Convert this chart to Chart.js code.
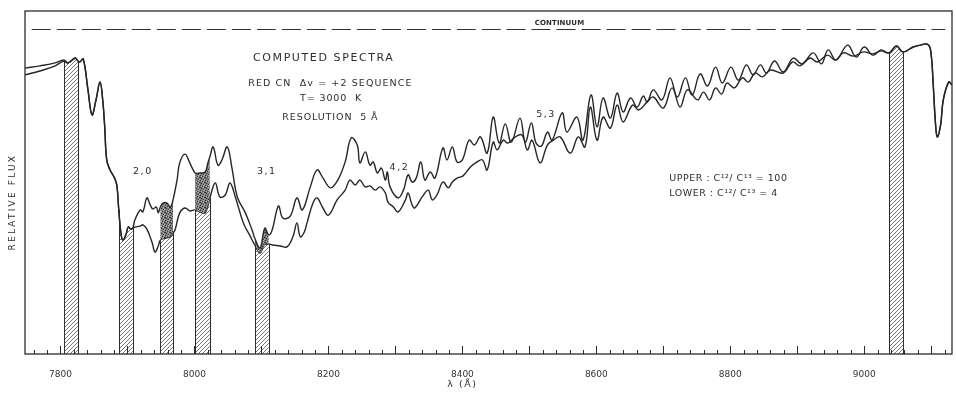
<!DOCTYPE html>
<html>
<head>
<meta charset="utf-8">
<script src="https://cdn.jsdelivr.net/npm/chart.js@4.4.1/dist/chart.umd.min.js"></script>
<style>
  html, body { margin: 0; padding: 0; background: #fff; }
  #wrap { width: 956px; height: 394px; }
</style>
</head>
<body>
<div id="wrap"><canvas id="spec" width="956" height="394"></canvas></div>
<script>
// wavelength (A) and relative flux
const upperWl = [
  7747, 7769, 7792, 7805, 7811, 7822, 7826, 7829, 7834, 7841,
  7847, 7853, 7859, 7863, 7866, 7869, 7874, 7880, 7884, 7887,
  7890, 7893, 7898, 7901, 7905, 7908, 7911, 7919, 7923, 7929,
  7934, 7938, 7943, 7946, 7949, 7953, 7959, 7964, 7968, 7974,
  7978, 7986, 7993, 8001, 8008, 8016, 8020, 8023, 8028, 8035,
  8041, 8049, 8056, 8064, 8076, 8086, 8090, 8098, 8105, 8111,
  8116, 8123, 8126, 8132, 8143, 8153, 8161, 8173, 8183, 8192,
  8203, 8214, 8225, 8234, 8243, 8247, 8255, 8262, 8267, 8273,
  8279, 8285, 8288, 8292, 8304, 8312, 8319, 8325, 8331, 8338,
  8344, 8352, 8359, 8371, 8377, 8385, 8392, 8400, 8410, 8418,
  8427, 8437, 8446, 8455, 8464, 8473, 8486, 8494, 8503, 8510,
  8518, 8527, 8534, 8549, 8556, 8571, 8580, 8592, 8601, 8610,
  8621, 8631, 8640, 8651, 8661, 8670, 8676, 8685, 8698, 8710,
  8721, 8733, 8743, 8755, 8766, 8778, 8788, 8801, 8812, 8824,
  8834, 8845, 8854, 8866, 8879, 8894, 8907, 8924, 8936, 8946,
  8958, 8975, 8988, 9000, 9013, 9025, 9037, 9048, 9058, 9073,
  9084, 9094, 9099, 9103, 9106, 9109, 9114, 9118, 9126, 9131
];
const upperFlux = [
  0.881, 0.888, 0.897, 0.906, 0.897, 0.912, 0.903, 0.900, 0.909, 0.814,
  0.737, 0.783, 0.838, 0.783, 0.700, 0.598, 0.567, 0.545, 0.521, 0.444,
  0.376, 0.351, 0.370, 0.391, 0.385, 0.388, 0.413, 0.444, 0.438, 0.481,
  0.459, 0.447, 0.453, 0.435, 0.453, 0.465, 0.465, 0.453, 0.475, 0.536,
  0.589, 0.616, 0.589, 0.558, 0.558, 0.561, 0.589, 0.607, 0.638, 0.582,
  0.598, 0.638, 0.573, 0.484, 0.435, 0.382, 0.357, 0.327, 0.388, 0.367,
  0.382, 0.444, 0.456, 0.419, 0.425, 0.481, 0.444, 0.515, 0.567, 0.542,
  0.512, 0.536, 0.592, 0.666, 0.644, 0.589, 0.623, 0.582, 0.592, 0.558,
  0.573, 0.536, 0.561, 0.515, 0.481, 0.505, 0.552, 0.530, 0.542, 0.592,
  0.536, 0.561, 0.542, 0.635, 0.598, 0.638, 0.592, 0.598, 0.659, 0.644,
  0.669, 0.619, 0.730, 0.650, 0.709, 0.653, 0.727, 0.653, 0.712, 0.650,
  0.641, 0.684, 0.659, 0.743, 0.684, 0.730, 0.659, 0.798, 0.700, 0.789,
  0.727, 0.804, 0.746, 0.789, 0.761, 0.795, 0.777, 0.814, 0.783, 0.851,
  0.792, 0.851, 0.798, 0.863, 0.826, 0.884, 0.835, 0.884, 0.844, 0.891,
  0.860, 0.891, 0.866, 0.903, 0.869, 0.912, 0.894, 0.928, 0.894, 0.937,
  0.906, 0.952, 0.915, 0.946, 0.921, 0.937, 0.928, 0.949, 0.931, 0.946,
  0.952, 0.955, 0.937, 0.829, 0.721, 0.669, 0.706, 0.783, 0.838, 0.829
];
const lowerWl = [
  7747, 7769, 7792, 7805, 7811, 7822, 7826, 7829, 7834, 7841,
  7847, 7853, 7859, 7863, 7866, 7869, 7874, 7880, 7884, 7887,
  7890, 7893, 7898, 7901, 7905, 7908, 7911, 7919, 7923, 7929,
  7937, 7941, 7946, 7949, 7956, 7964, 7968, 7971, 7978, 7986,
  7993, 8001, 8008, 8016, 8023, 8031, 8038, 8046, 8053, 8061,
  8073, 8083, 8090, 8098, 8104, 8111, 8116, 8128, 8138, 8147,
  8153, 8158, 8164, 8168, 8177, 8183, 8191, 8200, 8213, 8225,
  8232, 8240, 8247, 8255, 8262, 8270, 8277, 8285, 8289, 8297,
  8304, 8315, 8319, 8325, 8329, 8340, 8349, 8355, 8362, 8371,
  8379, 8385, 8392, 8401, 8412, 8422, 8430, 8437, 8446, 8452,
  8461, 8468, 8479, 8489, 8497, 8504, 8516, 8527, 8536, 8546,
  8561, 8573, 8583, 8591, 8601, 8610, 8621, 8631, 8640, 8654,
  8663, 8676, 8685, 8700, 8713, 8725, 8736, 8751, 8760, 8769,
  8778, 8787, 8795, 8806, 8818, 8827, 8837, 8848, 8860, 8879,
  8893, 8904, 8919, 8930, 8945, 8957, 8969, 8984, 8999, 9013,
  9025, 9037, 9048, 9058, 9073, 9084, 9094, 9099, 9103, 9106,
  9109, 9114, 9118, 9126, 9131
];
const lowerFlux = [
  0.860, 0.872, 0.888, 0.903, 0.897, 0.912, 0.903, 0.900, 0.909, 0.814,
  0.737, 0.783, 0.838, 0.783, 0.700, 0.598, 0.567, 0.545, 0.521, 0.444,
  0.376, 0.351, 0.370, 0.391, 0.385, 0.388, 0.391, 0.394, 0.398, 0.385,
  0.342, 0.314, 0.333, 0.351, 0.357, 0.361, 0.373, 0.382, 0.435, 0.450,
  0.441, 0.444, 0.438, 0.435, 0.481, 0.527, 0.484, 0.490, 0.527, 0.484,
  0.404, 0.364, 0.336, 0.311, 0.336, 0.339, 0.336, 0.333, 0.330, 0.361,
  0.404, 0.361, 0.376, 0.404, 0.465, 0.481, 0.453, 0.428, 0.475, 0.505,
  0.536, 0.521, 0.536, 0.515, 0.518, 0.505, 0.515, 0.496, 0.468, 0.453,
  0.438, 0.475, 0.496, 0.459, 0.450, 0.484, 0.505, 0.475, 0.490, 0.530,
  0.512, 0.530, 0.542, 0.549, 0.576, 0.592, 0.598, 0.567, 0.653, 0.629,
  0.659, 0.650, 0.669, 0.675, 0.629, 0.659, 0.589, 0.644, 0.659, 0.669,
  0.619, 0.669, 0.638, 0.761, 0.659, 0.730, 0.696, 0.767, 0.715, 0.767,
  0.752, 0.777, 0.792, 0.758, 0.820, 0.761, 0.814, 0.783, 0.807, 0.783,
  0.820, 0.801, 0.835, 0.820, 0.851, 0.838, 0.866, 0.854, 0.875, 0.866,
  0.900, 0.888, 0.912, 0.900, 0.921, 0.906, 0.928, 0.918, 0.931, 0.925,
  0.934, 0.928, 0.949, 0.931, 0.946, 0.952, 0.955, 0.937, 0.829, 0.721,
  0.669, 0.706, 0.783, 0.838, 0.829
];
// shaded bandpasses (A)
const bandStart = [7805, 7887, 7949, 8001, 8090, 9037];
const bandEnd = [7826, 7908, 7968, 8023, 8111, 9058];
const continuumWl = [7757, 9121];
const continuumFlux = [1, 1];
const tickLabels = [7800, 8000, 8200, 8400, 8600, 8800, 9000];

const notes = [
  { text: 'CONTINUUM', x: 8545, y: 1.018, size: 7, weight: 'bold', spacing: 0.1 },
  { text: 'COMPUTED SPECTRA', x: 8193, y: 0.912, size: 11, spacing: 1.6 },
  { text: 'RED CN  Δv = +2 SEQUENCE', x: 8203, y: 0.835, size: 9.5, spacing: 1.1 },
  { text: 'T= 3000  K', x: 8204, y: 0.786, size: 9.5, spacing: 0.9 },
  { text: 'RESOLUTION  5 Å', x: 8203, y: 0.730, size: 9.5, spacing: 0.9 },
  { text: '2,0', x: 7923, y: 0.561, size: 9.5, spacing: 1.5 },
  { text: '3,1', x: 8108, y: 0.561, size: 9.5, spacing: 1.5 },
  { text: '4,2', x: 8306, y: 0.576, size: 9.5, spacing: 1.5 },
  { text: '5,3', x: 8525, y: 0.737, size: 9.5, spacing: 1.5 },
  { text: 'UPPER : C¹²/ C¹³ = 100', x: 8709, y: 0.542, size: 9.5, spacing: 0.5, align: 'left' },
  { text: 'LOWER : C¹²/ C¹³ = 4', x: 8709, y: 0.493, size: 9.5, spacing: 0.5, align: 'left' },
  { text: 'λ (Å)', x: 8400, y: -0.0955, size: 9.5, spacing: 1.5 },
  { text: 'RELATIVE FLUX', x: 7728, y: 0.468, size: 9, spacing: 2.2, rotate: true }
];

const canvas = document.getElementById('spec');
const ctx = canvas.getContext('2d');

function makeHatch() {
  const c = document.createElement('canvas');
  c.width = 4; c.height = 4;
  const g = c.getContext('2d');
  g.fillStyle = '#fff';
  g.fillRect(0, 0, 4, 4);
  g.strokeStyle = '#555';
  g.lineWidth = 0.8;
  g.beginPath();
  g.moveTo(0, 4); g.lineTo(4, 0);
  g.moveTo(-1, 1); g.lineTo(1, -1);
  g.moveTo(3, 5); g.lineTo(5, 3);
  g.stroke();
  return ctx.createPattern(c, 'repeat');
}

function makeStipple() {
  const c = document.createElement('canvas');
  c.width = 5; c.height = 5;
  const g = c.getContext('2d');
  g.fillStyle = '#7e7e7e';
  g.fillRect(0, 0, 5, 5);
  g.fillStyle = '#333';
  [[0, 0], [2, 1], [4, 2], [1, 3], [3, 4], [0, 2]].forEach(([px, py]) => g.fillRect(px, py, 1, 1));
  g.fillStyle = '#b5b5b5';
  [[3, 0], [1, 1], [3, 2], [4, 4]].forEach(([px, py]) => g.fillRect(px, py, 1, 1));
  return ctx.createPattern(c, 'repeat');
}

const hatch = makeHatch();
const stipple = makeStipple();

const inBand = (c) => {
  const a = c.p0.parsed.x, b = c.p1.parsed.x;
  return bandStart.some((s, i) => a >= s && b <= bandEnd[i]);
};

const toPoints = (xs, ys) => xs.map((v, i) => ({ x: v, y: ys[i] }));

const decor = {
  id: 'decor',
  afterDatasetsDraw(chart) {
    const { ctx, chartArea: a, scales: { x, y } } = chart;
    const meta = chart.getDatasetMeta(1);
    ctx.save();
    // edges of the shaded bands
    ctx.strokeStyle = '#2b2b2b';
    ctx.lineWidth = 1;
    bandStart.concat(bandEnd).forEach((w) => {
      const p = meta.data[lowerWl.indexOf(w)];
      const px = Math.round(p.x) + 0.5;
      ctx.beginPath();
      ctx.moveTo(px, a.bottom);
      ctx.lineTo(px, p.y);
      ctx.stroke();
    });
    // frame
    ctx.strokeStyle = '#2b2b2b';
    ctx.lineWidth = 1.3;
    ctx.strokeRect(a.left, a.top, a.right - a.left, a.bottom - a.top);
    // inward ticks
    ctx.lineWidth = 1;
    x.ticks.forEach((t) => {
      const px = Math.round(x.getPixelForValue(t.value)) + 0.5;
      const len = t.value % 100 === 0 ? 8 : 4;
      ctx.beginPath();
      ctx.moveTo(px, a.bottom);
      ctx.lineTo(px, a.bottom - len);
      ctx.stroke();
    });
    // lettering
    ctx.fillStyle = '#2e2e2e';
    ctx.textBaseline = 'middle';
    notes.forEach((n) => {
      ctx.save();
      ctx.font = (n.weight || 'normal') + ' ' + n.size + 'px "DejaVu Sans"';
      ctx.letterSpacing = (n.spacing || 0) + 'px';
      ctx.translate(x.getPixelForValue(n.x), y.getPixelForValue(n.y));
      if (n.rotate) ctx.rotate(-Math.PI / 2);
      ctx.textAlign = n.align || 'center';
      ctx.fillText(n.text, 0, 0);
      ctx.restore();
    });
    ctx.restore();
  }
};

new Chart(ctx, {
  type: 'line',
  data: {
    datasets: [
      {
        label: 'C12/C13 = 100',
        data: toPoints(upperWl, upperFlux),
        borderColor: '#262626',
        borderWidth: 1.4,
        backgroundColor: 'rgba(0,0,0,0)',
        fill: 1,
        segment: { backgroundColor: (c) => (inBand(c) ? stipple : undefined) }
      },
      {
        label: 'C12/C13 = 4',
        data: toPoints(lowerWl, lowerFlux),
        borderColor: '#262626',
        borderWidth: 1.4,
        backgroundColor: 'rgba(0,0,0,0)',
        fill: 'origin',
        segment: { backgroundColor: (c) => (inBand(c) ? hatch : undefined) }
      },
      {
        label: 'continuum',
        data: toPoints(continuumWl, continuumFlux),
        borderColor: '#333',
        borderWidth: 1.2,
        borderDash: [19, 6],
        fill: false
      }
    ]
  },
  options: {
    responsive: false,
    devicePixelRatio: 1,
    animation: false,
    events: [],
    elements: { point: { radius: 0 }, line: { tension: 0.4 } },
    layout: { padding: { left: 25, right: 4, top: 11, bottom: 0 } },
    plugins: {
      legend: { display: false },
      tooltip: { enabled: false }
    },
    scales: {
      x: {
        type: 'linear',
        min: 7747,
        max: 9131,
        grid: { display: false },
        border: { display: false },
        afterFit: (s) => { s.height = 40; },
        ticks: {
          stepSize: 20,
          includeBounds: false,
          autoSkip: false,
          maxRotation: 0,
          minRotation: 0,
          padding: 7,
          color: '#333',
          font: { family: 'DejaVu Sans', size: 9 },
          callback: (v) => (tickLabels.includes(v) ? String(v) : '')
        }
      },
      y: {
        min: 0,
        max: 1.057,
        display: false
      }
    }
  },
  plugins: [decor]
});
</script>
</body>
</html>
